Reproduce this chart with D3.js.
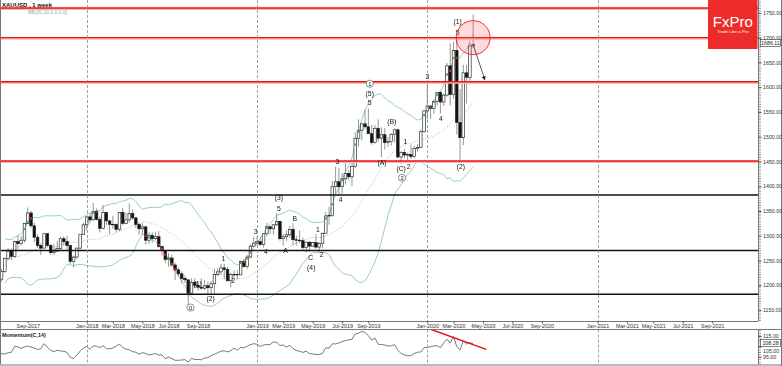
<!DOCTYPE html>
<html><head><meta charset="utf-8">
<script src="https://cdn.jsdelivr.net/npm/d3@7"></script>
<style>body{margin:0;background:#fff}svg{display:block}text{font-family:"Liberation Sans",Arial,sans-serif}.gray{filter:grayscale(1)}</style>
</head><body><svg id="c" width="782" height="366"></svg>
<script>
// ---------- DATA (XAUUSD weekly) ----------
const weeks = [
"2017-03-05","2017-03-12","2017-03-19","2017-03-26","2017-04-02","2017-04-09","2017-04-16","2017-04-23","2017-04-30","2017-05-07",
"2017-05-14","2017-05-21","2017-05-28","2017-06-04","2017-06-11","2017-06-18","2017-06-25","2017-07-02","2017-07-09","2017-07-16",
"2017-07-23","2017-07-30","2017-08-06","2017-08-13","2017-08-20","2017-08-27","2017-09-03","2017-09-10","2017-09-17","2017-09-24",
"2017-10-01","2017-10-08","2017-10-15","2017-10-22","2017-10-29","2017-11-05","2017-11-12","2017-11-19","2017-11-26","2017-12-03",
"2017-12-10","2017-12-17","2017-12-24","2017-12-31",
"2018-01-07","2018-01-14","2018-01-21","2018-01-28","2018-02-04","2018-02-11","2018-02-18","2018-02-25","2018-03-04","2018-03-11",
"2018-03-18","2018-03-25","2018-04-01","2018-04-08","2018-04-15","2018-04-22","2018-04-29","2018-05-06","2018-05-13","2018-05-20",
"2018-05-27","2018-06-03","2018-06-10","2018-06-17","2018-06-24","2018-07-01","2018-07-08","2018-07-15","2018-07-22","2018-07-29",
"2018-08-05","2018-08-12","2018-08-19","2018-08-26","2018-09-02","2018-09-09","2018-09-16","2018-09-23","2018-09-30","2018-10-07",
"2018-10-14","2018-10-21","2018-10-28","2018-11-04","2018-11-11","2018-11-18","2018-11-25","2018-12-02","2018-12-09","2018-12-16",
"2018-12-23","2018-12-30",
"2019-01-06","2019-01-13","2019-01-20","2019-01-27","2019-02-03","2019-02-10","2019-02-17","2019-02-24","2019-03-03","2019-03-10",
"2019-03-17","2019-03-24","2019-03-31","2019-04-07","2019-04-14","2019-04-21","2019-04-28","2019-05-05","2019-05-12","2019-05-19",
"2019-05-26","2019-06-02","2019-06-09","2019-06-16","2019-06-23","2019-06-30","2019-07-07","2019-07-14","2019-07-21","2019-07-28",
"2019-08-04","2019-08-11","2019-08-18","2019-08-25","2019-09-01","2019-09-08","2019-09-15","2019-09-22","2019-09-29","2019-10-06",
"2019-10-13","2019-10-20","2019-10-27","2019-11-03","2019-11-10","2019-11-17","2019-11-24","2019-12-01","2019-12-08","2019-12-15",
"2019-12-22","2019-12-29",
"2020-01-05","2020-01-12","2020-01-19","2020-01-26","2020-02-02","2020-02-09","2020-02-16","2020-02-23","2020-03-01","2020-03-08",
"2020-03-15","2020-03-22","2020-03-29","2020-04-05","2020-04-12"];

const opens = [
1234,1201,1229,1243,1249,1254,1285,1284,1268,1228, 1228,1254,1268,1279,1266,1254,1256,1242,1212,1228,
1254,1269,1258,1288,1284,1291,1325,1346,1320,1297, 1280,1275,1304,1280,1266,1269,1274,1294,1288,1280,
1248,1257,1275,1303,
1322,1338,1332,1349,1333,1315,1347,1330,1323,1323, 1313,1347,1325,1332,1345,1336,1323,1314,1318,1291,
1301,1294,1298,1278,1270,1252,1255,1241,1231,1223, 1214,1211,1184,1206,1200,1196,1194,1199,1195,1203,
1222,1227,1235,1232,1209,1222,1222,1221,1248,1238, 1257,1279,
1285,1288,1282,1304,1318,1314,1322,1329,1294,1298, 1302,1313,1292,1291,1290,1276,1287,1279,1286,1277,
1284,1305,1340,1341,1399,1409,1399,1415,1426,1419, 1440,1496,1513,1526,1520,1506,1488,1517,1497,1504,
1488,1490,1505,1514,1459,1468,1463,1464,1460,1476, 1478,1510,
1552,1562,1557,1571,1589,1570,1584,1643,1585,1674, 1529,1498,1629,1620,1683];

const highs = [
1236,1233,1261,1261,1274,1289,1295,1290,1269,1236, 1264,1270,1281,1296,1274,1260,1260,1242,1233,1256,
1275,1274,1290,1301,1299,1326,1357,1350,1326,1303, 1285,1306,1306,1283,1283,1289,1297,1299,1300,1282,
1260,1274,1300,1326,
1339,1345,1366,1355,1339,1362,1348,1331,1340,1325, 1348,1356,1347,1365,1353,1338,1326,1326,1319,1308,
1307,1308,1309,1280,1270,1265,1262,1245,1236,1228, 1219,1211,1214,1214,1206,1214,1211,1208,1209,1233,
1234,1243,1243,1237,1225,1230,1230,1250,1254,1261, 1283,1298,
1298,1298,1305,1326,1320,1323,1346,1330,1304,1311, 1320,1325,1300,1311,1296,1288,1289,1288,1303,1287,
1306,1348,1358,1411,1439,1437,1427,1453,1433,1449, 1509,1535,1527,1555,1557,1524,1524,1535,1519,1517,
1499,1507,1516,1516,1471,1476,1468,1484,1481,1485, 1514,1553,
1611,1563,1575,1590,1592,1586,1649,1689,1692,1703, 1596,1645,1645,1690,1747];

const lows = [
1195,1197,1228,1237,1240,1250,1278,1262,1227,1214, 1226,1250,1260,1265,1250,1241,1236,1205,1207,1225,
1250,1251,1255,1273,1280,1286,1323,1316,1287,1275, 1261,1275,1278,1262,1261,1267,1271,1280,1272,1243,
1236,1253,1273,1302,
1311,1325,1330,1331,1307,1313,1322,1303,1314,1307, 1309,1322,1323,1326,1332,1316,1302,1302,1282,1283,
1286,1291,1276,1260,1245,1237,1237,1211,1218,1204, 1204,1160,1182,1194,1189,1191,1190,1180,1182,1183,
1218,1221,1212,1208,1196,1215,1212,1221,1235,1233, 1255,1277,
1280,1280,1276,1299,1303,1302,1320,1290,1280,1289, 1296,1280,1280,1285,1271,1266,1267,1278,1274,1266,
1275,1305,1322,1338,1384,1382,1385,1403,1412,1400, 1437,1480,1492,1516,1506,1484,1486,1490,1459,1474,
1480,1482,1488,1456,1445,1456,1452,1455,1457,1470, 1477,1508,
1535,1536,1546,1563,1547,1562,1581,1563,1576,1504, 1451,1483,1567,1606,1680];

const closes = [
1201,1229,1243,1249,1254,1285,1284,1268,1228,1228, 1254,1268,1279,1266,1254,1256,1242,1212,1228,1254,
1269,1258,1288,1284,1291,1325,1346,1320,1297,1280, 1275,1304,1280,1266,1269,1274,1294,1288,1280,1248,
1257,1275,1303,1322,
1338,1332,1349,1333,1315,1347,1330,1323,1323,1313, 1347,1325,1332,1345,1336,1323,1314,1318,1291,1301,
1294,1298,1278,1270,1252,1255,1241,1231,1223,1214, 1211,1184,1206,1200,1196,1194,1199,1195,1203,1222,
1227,1235,1232,1209,1222,1222,1221,1248,1238,1257, 1279,1285,
1288,1282,1304,1318,1314,1322,1329,1294,1298,1302, 1313,1292,1291,1290,1276,1287,1279,1286,1277,1284,
1305,1340,1341,1399,1409,1399,1415,1426,1419,1440, 1496,1513,1526,1520,1506,1488,1517,1497,1504,1488,
1490,1505,1514,1459,1468,1463,1464,1460,1476,1478, 1510,1552,
1562,1557,1571,1589,1570,1584,1643,1585,1674,1529, 1498,1629,1620,1683,1686.11];

const lastPrice = 1686.11;
const lastMomentum = 108.28;

const priceTicks = [1150,1200,1250,1300,1350,1400,1450,1500,1550,1600,1650,1700,1750];
const momTicks = [95,105,115];

const tickDates = ["2017-09-03","2018-01-07","2018-03-04","2018-05-06","2018-07-01","2018-09-02","2019-01-06","2019-03-03",
"2019-05-05","2019-07-07","2019-09-01","2020-01-05","2020-03-01","2020-05-03","2020-07-05","2020-09-06","2021-01-03",
"2021-03-07","2021-05-02","2021-07-04","2021-09-05"];
const tickLabels = ["Sep-2017","Jan-2018","Mar-2018","May-2018","Jul-2018","Sep-2018","Jan-2019","Mar-2019","May-2019",
"Jul-2019","Sep-2019","Jan-2020","Mar-2020","May-2020","Jul-2020","Sep-2020","Jan-2021","Mar-2021","May-2021","Jul-2021","Sep-2021"];
const separatorDates = ["2018-01-07","2019-01-06","2020-01-05","2021-01-03"];

const redLevels = [1760,1700,1611,1451];
const blackLevels = [1382,1270,1182];

// wave labels: date, price, text, circled
const waveDates = ["2018-09-01","2018-09-29","2018-08-17","2018-10-26","2018-11-16","2019-01-03","2019-01-25","2019-02-22",
"2019-02-22","2019-03-08","2019-03-28","2019-05-01","2019-05-02","2019-05-16","2019-05-24","2019-06-27","2019-07-04",
"2019-09-04","2019-09-04","2019-09-04","2019-10-21","2019-09-30","2019-11-19","2019-11-10","2019-11-26","2019-11-12",
"2020-01-05","2020-02-03","2020-03-17","2020-03-10","2020-03-10"];
const wavePrices = [1204,1174,1155,1254,1209,1308,1268,1376,1355,1270,1335,1256,1236,1313,1261,1450,1372,
1607,1588,1568,1530,1448,1490,1436,1439,1417,1621,1537,1440,1732,1711];
const waveTexts = ["(1)","(2)","0","1","2","3","4","(3)","5","A","B","C","(4)","1","2","3","4",
"1","(5)","5","(B)","(A)","1","(C)","2","2","3","4","(2)","(1)","5"];
const waveCircled = [0,0,1,0,0,0,0,0,0,0,0,0,0,0,0,0,0,1,0,0,0,0,0,0,0,1,0,0,0,0,0];

const circleCenter = ["2020-04-12", 1700];
const arrowFrom = ["2020-04-12", 1686];
const arrowTo = ["2020-05-07", 1615];
const momTrendDates = ["2020-01-12","2020-05-10"];
const momTrendValues = [121.5,102.1];

// ---------- CHART ----------
const svg = d3.select("#c");
const parse = d3.utcParse("%Y-%m-%d");
const plotR = 758.5, mainBot = 321, momTop = 329.5, momBot = 364.5;
const x = d3.scaleUtc().domain([parse("2018-01-07"), parse("2021-01-03")]).range([86.7, 86.7 + 156*3.275]);
const y = d3.scaleLinear().domain([1150,1750]).range([310,12.9]);
const ym = d3.scaleLinear().domain([95,115]).range([356.7,336]);

const defs = svg.append("defs");
defs.append("clipPath").attr("id","cm").append("rect").attr("x",0).attr("y",0).attr("width",plotR).attr("height",mainBot);
defs.append("clipPath").attr("id","cmo").append("rect").attr("x",0).attr("y",momTop).attr("width",plotR).attr("height",momBot-momTop);
defs.append("marker").attr("id","ah").attr("viewBox","0 0 10 10").attr("refX",9).attr("refY",5)
  .attr("markerWidth",5).attr("markerHeight",5).attr("orient","auto")
  .append("path").attr("d","M0,0L10,5L0,10z").attr("fill","#222");

const bars = weeks.map((w,i)=>({d:parse(w),o:opens[i],h:highs[i],l:lows[i],c:closes[i]}));
// Bollinger bands (20, 2) and Momentum(14) derived from closes
bars.forEach((b,i)=>{
  if(i>=19){
    const s = closes.slice(i-19,i+1);
    const m = d3.mean(s);
    const sd = Math.sqrt(d3.mean(s, v=>(v-m)*(v-m)));
    b.mid=m; b.up=m+2*sd; b.lo=m-2*sd;
  }
  if(i>=14) b.mom = closes[i]/closes[i-14]*100;
});

svg.append("rect").attr("x",0).attr("y",0).attr("width",782).attr("height",366).attr("fill","#fff");
const main = svg.append("g").attr("clip-path","url(#cm)");
const mom = svg.append("g").attr("clip-path","url(#cmo)");

// separators
separatorDates.forEach(s=>{
  const xx = Math.round(x(parse(s)))+0.5;
  svg.append("line").attr("x1",xx).attr("x2",xx).attr("y1",0).attr("y2",mainBot)
    .attr("stroke","#888").attr("stroke-dasharray","3,2").attr("stroke-width",0.8);
  svg.append("line").attr("x1",xx).attr("x2",xx).attr("y1",momTop).attr("y2",momBot)
    .attr("stroke","#888").attr("stroke-dasharray","3,2").attr("stroke-width",0.8);
});

// bands
const bb = bars.filter(b=>b.mid!==undefined);
const ln = k => d3.line().x(b=>x(b.d)).y(b=>y(b[k]));
main.append("path").attr("d",ln("up")(bb)).attr("fill","none").attr("stroke","#8ec6c6").attr("stroke-width",0.9);
main.append("path").attr("d",ln("lo")(bb)).attr("fill","none").attr("stroke","#8ec6c6").attr("stroke-width",0.9);
main.append("path").attr("d",ln("mid")(bb)).attr("fill","none").attr("stroke","#9aa8a8").attr("stroke-width",0.8).attr("stroke-dasharray","1,1.6");

// candles
const cg = main.append("g");
bars.forEach(b=>{
  const cx = x(b.d);
  cg.append("line").attr("x1",cx).attr("x2",cx).attr("y1",y(b.h)).attr("y2",y(b.l)).attr("stroke","#8a8a8a").attr("stroke-width",0.9);
  const top = y(Math.max(b.o,b.c)), bot = y(Math.min(b.o,b.c));
  const bull = b.c>=b.o;
  cg.append("rect").attr("x",cx-1.3).attr("y",top).attr("width",2.6).attr("height",Math.max(0.6,bot-top))
    .attr("fill",bull?"#fff":"#111").attr("stroke","#222").attr("stroke-width",0.65);
  ["up","lo"].forEach(k=>{
    if(b[k]!==undefined && b[k]>Math.min(b.o,b.c) && b[k]<Math.max(b.o,b.c)){
      cg.append("rect").attr("x",cx-1).attr("y",y(b[k])-1.1).attr("width",2).attr("height",2.2)
        .attr("fill",bull?"#3cb043":"#d0302a");
    }
  });
});

// horizontal levels
redLevels.forEach(p=>{
  main.append("line").attr("x1",0).attr("x2",plotR).attr("y1",y(p)+1).attr("y2",y(p)+1).attr("stroke","#f8b4b4").attr("stroke-width",2);
  main.append("line").attr("x1",0).attr("x2",plotR).attr("y1",y(p)).attr("y2",y(p)).attr("stroke","#f01010").attr("stroke-width",1.4);
});
blackLevels.forEach(p=>{
  main.append("line").attr("x1",0).attr("x2",plotR).attr("y1",y(p)).attr("y2",y(p)).attr("stroke","#111").attr("stroke-width",1.5);
});

// wave labels
const wg = main.append("g").attr("class","gray");
waveTexts.forEach((t,i)=>{
  const px = x(parse(waveDates[i])), py = y(wavePrices[i]);
  if(waveCircled[i]){
    wg.append("circle").attr("cx",px).attr("cy",py).attr("r",3.6).attr("fill","#fff").attr("stroke","#444").attr("stroke-width",0.6);
    wg.append("text").attr("x",px).attr("y",py+2.1).attr("text-anchor","middle").attr("font-size",5.8).attr("fill","#111").text(t);
  } else {
    wg.append("text").attr("x",px).attr("y",py+2.4).attr("text-anchor","middle").attr("font-size",6.8).attr("fill","#111").text(t);
  }
});

// red circle and arrow
main.append("circle").attr("cx",x(parse(circleCenter[0]))).attr("cy",y(circleCenter[1])).attr("r",17)
  .attr("fill","rgba(255,90,90,0.22)").attr("stroke","#f03030").attr("stroke-width",1);
main.append("line").attr("x1",x(parse(arrowFrom[0]))).attr("y1",y(arrowFrom[1]))
  .attr("x2",x(parse(arrowTo[0]))).attr("y2",y(arrowTo[1])).attr("stroke","#333").attr("stroke-width",0.8).attr("marker-end","url(#ah)");

// momentum
const mb = bars.filter(b=>b.mom!==undefined);
mom.append("path").attr("d",d3.line().x(b=>x(b.d)).y(b=>ym(b.mom))(mb)).attr("fill","none").attr("stroke","#555").attr("stroke-width",0.8);
mom.append("line").attr("x1",x(parse(momTrendDates[0]))).attr("y1",ym(momTrendValues[0]))
  .attr("x2",x(parse(momTrendDates[1]))).attr("y2",ym(momTrendValues[1])).attr("stroke","#f01010").attr("stroke-width",1.5);

// frames
const fr = svg.append("g").attr("fill","none").attr("stroke","#777").attr("stroke-width",1);
fr.append("line").attr("x1",0.5).attr("x2",0.5).attr("y1",0).attr("y2",momBot);
fr.append("line").attr("x1",plotR).attr("x2",plotR).attr("y1",0).attr("y2",mainBot);
fr.append("line").attr("x1",plotR).attr("x2",plotR).attr("y1",momTop).attr("y2",momBot);
fr.append("line").attr("x1",0).attr("x2",plotR).attr("y1",mainBot+0.5).attr("y2",mainBot+0.5);
fr.append("line").attr("x1",0).attr("x2",782).attr("y1",momTop).attr("y2",momTop);
fr.append("line").attr("x1",0).attr("x2",782).attr("y1",momBot+0.5).attr("y2",momBot+0.5);
fr.append("line").attr("x1",781.5).attr("x2",781.5).attr("y1",0).attr("y2",366);
svg.append("line").attr("x1",760).attr("x2",760).attr("y1",1).attr("y2",mainBot).attr("stroke","#666").attr("stroke-width",1.6).attr("stroke-dasharray","0.8,1.6");
svg.append("line").attr("x1",760).attr("x2",760).attr("y1",momTop+1).attr("y2",momBot).attr("stroke","#666").attr("stroke-width",1.6).attr("stroke-dasharray","0.8,1.6");

// price axis
const ax = svg.append("g").attr("transform",`translate(${plotR},0)`)
  .call(d3.axisRight(y).tickValues(priceTicks).tickFormat(d3.format(".2f")).tickSize(3).tickPadding(1.5));
ax.select(".domain").remove();
ax.selectAll("text").attr("font-size",5.3).attr("fill","#333").attr("font-family","Liberation Sans, Arial");
ax.selectAll("line").attr("stroke","#555");
const axm = svg.append("g").attr("transform",`translate(${plotR},0)`)
  .call(d3.axisRight(ym).tickValues(momTicks).tickFormat(d3.format(".2f")).tickSize(3).tickPadding(1.5));
axm.select(".domain").remove();
axm.selectAll("text").attr("font-size",5.3).attr("fill","#333").attr("font-family","Liberation Sans, Arial");
axm.selectAll("line").attr("stroke","#555");
// the 105 label peeks out just below the current-value box
axm.selectAll(".tick").filter(d=>d===105).select("text").attr("dy","1.15em");

function valueBox(v, yy){
  const g = svg.append("g");
  g.append("rect").attr("x",760.5).attr("y",yy-3.5).attr("width",20).attr("height",7).attr("fill","#fff").attr("stroke","#333").attr("stroke-width",0.6);
  g.append("text").attr("x",770.5).attr("y",yy+1.9).attr("text-anchor","middle").attr("font-size",5.3).attr("fill","#222").text(d3.format(".2f")(v));
}
valueBox(lastPrice, y(lastPrice)-1.5);
valueBox(lastMomentum, ym(lastMomentum));

// time axis
const axx = svg.append("g").attr("transform",`translate(0,${mainBot+0.5})`)
  .call(d3.axisBottom(x).tickValues(tickDates.map(parse)).tickFormat((d,i)=>tickLabels[i]).tickSize(2).tickPadding(0.5));
axx.select(".domain").remove();
axx.selectAll("text").attr("font-size",5.4).attr("fill","#333").attr("font-family","Liberation Sans, Arial");
axx.selectAll("line").attr("stroke","#555");

// titles
svg.append("text").attr("x",2).attr("y",7).attr("font-size",6).attr("font-weight","bold").attr("fill","#111").text("XAUUSD , 1 week");
svg.append("text").attr("x",28).attr("y",14.3).attr("font-size",5).attr("fill","#7fb0b0").text("BB(20,20,2.0,0.0)");
svg.append("text").attr("x",2).attr("y",336.5).attr("font-size",5.4).attr("font-weight","bold").attr("fill","#222").text("Momentum(C,14)");

// logo
svg.append("rect").attr("x",708).attr("y",0).attr("width",49.5).attr("height",49).attr("fill","#ee2b2b");
svg.append("text").attr("x",732.8).attr("y",26.5).attr("text-anchor","middle").attr("font-size",15)
  .attr("font-family","Liberation Serif, DejaVu Serif, serif").attr("fill","#fff").text("FxPro");
svg.append("text").attr("x",732.8).attr("y",33).attr("text-anchor","middle").attr("font-size",4.3).attr("fill","#fff").text("Trade Like a Pro");
</script></body></html>
